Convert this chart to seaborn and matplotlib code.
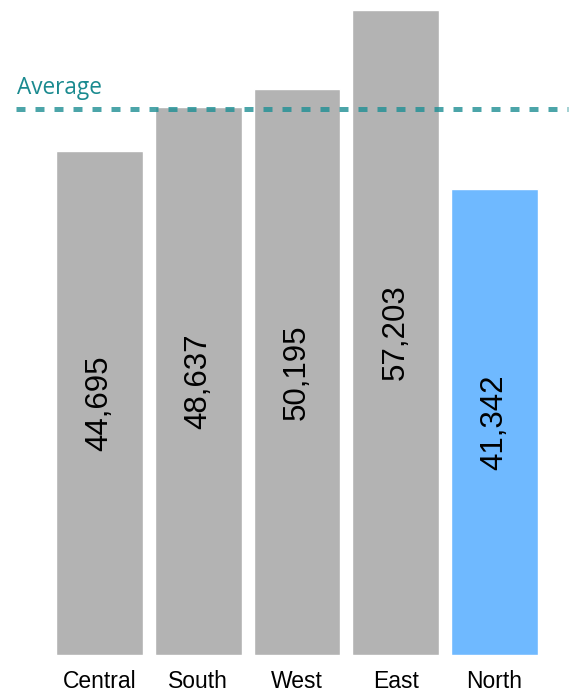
import pandas as pd
import matplotlib.pyplot as plt
import seaborn as sns

regions = ["Central", "South", "West", "East", "North"]
sales = [44695, 48637, 50195, 57203, 41342]
bar_colors = ["#b3b3b3", "#b3b3b3", "#b3b3b3", "#b3b3b3", "#6fb9ff"]

df = pd.DataFrame({"region": regions, "sales": sales})
avg = df["sales"].mean()

sns.set_style("white")
plt.rcParams["font.family"] = ["Liberation Sans", "DejaVu Sans"]

fig = plt.figure(figsize=(5.76, 6.92), dpi=100)
ax = fig.add_axes([16 / 576, 37 / 692, 552 / 576, 645 / 692])

sns.barplot(data=df, x="region", y="sales", hue="region",
            palette=dict(zip(regions, bar_colors)), width=0.88,
            saturation=1, legend=False, ax=ax)

ax.set_xlim(-0.846, 4.744)
ax.set_ylim(0, df["sales"].max())

# value labels, rotated, in the middle of each bar
for i, v in enumerate(sales):
    ax.text(i, v / 2, f"{v:,}", rotation=90, ha="center", va="center",
            fontsize=22.5, color="black")

# average line
ax.axhline(avg, xmin=0, xmax=1, color="#1f8f94", alpha=0.8, lw=3.6,
           dashes=(1.8, 2.0), clip_on=False, zorder=5)
ax.annotate("Average", xy=(0, avg), xycoords=("axes fraction", "data"),
            xytext=(1, 11), textcoords="offset points", ha="left",
            va="baseline", fontsize=16.3, color="#1a8a8f",
            family=["Open Sans", "DejaVu Sans"])

ax.set_xlabel("")
ax.set_ylabel("")
ax.set_yticks([])
ax.tick_params(axis="x", length=0, pad=10.5, labelsize=16.5, labelcolor="black")
sns.despine(left=True, bottom=True)

plt.savefig("out.png", dpi=100)
